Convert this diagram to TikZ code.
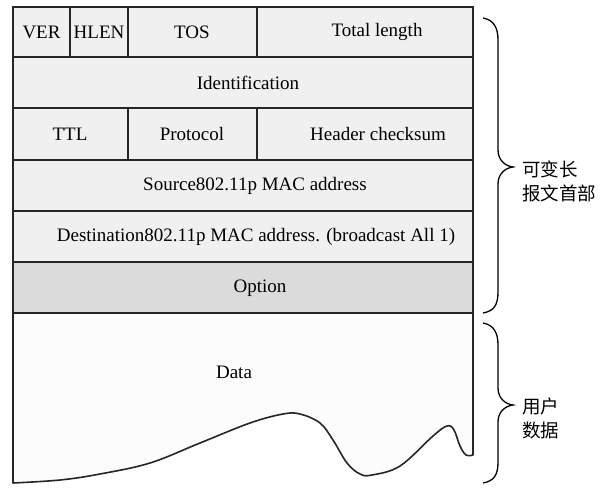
\documentclass[tikz,border=0pt]{standalone}
\usepackage{fontspec}
\setmainfont{Liberation Serif}
\newfontfamily\cjk{Noto Sans CJK SC}
\begin{document}
\begin{tikzpicture}[x=1pt,y=-1pt,
  cellbox/.style={draw=black!85, line width=1.6pt, fill=#1},
  cellbox/.default={black!6},
  txt/.style={font=\fontsize{19}{22}\selectfont, inner sep=0pt},
  cjktxt/.style={font=\cjk\fontsize{18.5}{24}\selectfont, align=left, inner sep=0pt, anchor=west},
  bracepath/.style={draw=black, line width=1.3pt}]
\useasboundingbox (0,0) rectangle (609,489);
\fill[white] (0,0) rectangle (609,489);

% header rows
\draw[cellbox] (13,7) rectangle (70,57);
\draw[cellbox] (70,7) rectangle (128,57);
\draw[cellbox] (128,7) rectangle (257,57);
\draw[cellbox] (257,7) rectangle (473,57);
\draw[cellbox] (13,57) rectangle (473,108);
\draw[cellbox] (13,108) rectangle (128,160);
\draw[cellbox] (128,108) rectangle (257,160);
\draw[cellbox] (257,108) rectangle (473,160);
\draw[cellbox] (13,160) rectangle (473,211);
\draw[cellbox] (13,211) rectangle (473,262);
\draw[cellbox=black!14] (13,262) rectangle (473,313);

% data area with torn bottom edge
\filldraw[draw=black!85, line width=1.6pt, fill=black!1, line join=round]
  (473,313) -- (13,313) --
  plot[smooth, tension=0.6] coordinates {(13,483) (60,480) (100,474) (150,463) (200,443)
    (250,423) (283,414) (300,414) (320,423) (333,440) (347,463) (360,474) (372,475)
    (400,466) (433,436) (447,426) (454,430) (460,446) (466,455) (473,455)}
  -- cycle;

% field labels
\node[txt] (ver) at (41.5,32) {VER};
\node[txt] (hlen) at (99,32) {HLEN};
\node[txt] (tos) at (192,32) {TOS};
\node[txt] (tlen) at (377,32) {Total length};
\node[txt] (ident) at (248,83) {Identification};
\node[txt] (ttl) at (70,134) {TTL};
\node[txt] (proto) at (192,134) {Protocol};
\node[txt] (hcs) at (378,134) {Header checksum};
\node[txt] (src) at (255,186) {Source802.11p MAC address};
\node[txt] (dst) at (256,237) {Destination802.11p MAC address. (broadcast All 1)};
\node[txt] (opt) at (260,288) {Option};
\node[txt] (data) at (234,372) {Data};

% braces
\draw[bracepath] (483,18) .. controls (494,20) and (498,28) .. (498,40) -- (498,150)
  .. controls (498,160) and (505,166) .. (513,167)
  .. controls (505,168) and (498,174) .. (498,184) -- (498,292)
  .. controls (498,305) and (494,311) .. (483,313);
\draw[bracepath] (483,323) .. controls (494,325) and (498,333) .. (498,345) -- (498,388)
  .. controls (498,398) and (505,404) .. (513,405)
  .. controls (505,406) and (498,412) .. (498,422) -- (498,462)
  .. controls (498,475) and (494,481) .. (483,483);

\node[cjktxt] (hdrlbl) at (522,181) {可变长\\报文首部};
\node[cjktxt] (datalbl) at (522,418) {用户\\数据};
\end{tikzpicture}
\end{document}
